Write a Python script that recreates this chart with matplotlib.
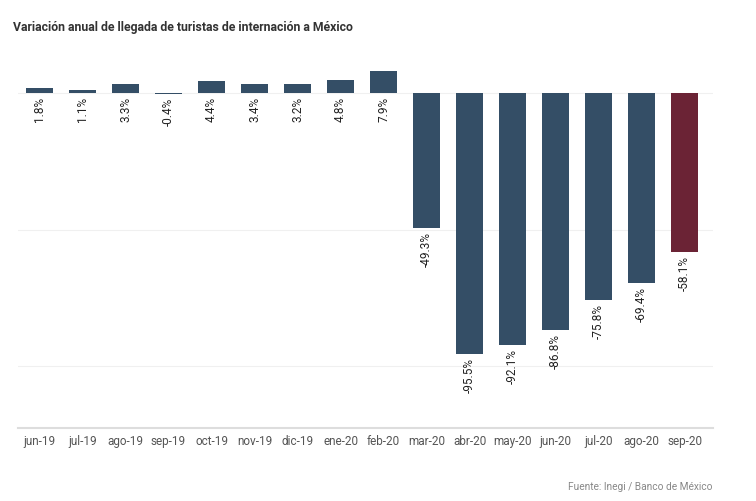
import numpy as np
import matplotlib.pyplot as plt

plt.rcParams['font.family'] = ['Roboto', 'DejaVu Sans']

months = ["jun-19", "jul-19", "ago-19", "sep-19", "oct-19", "nov-19", "dic-19", "ene-20",
          "feb-20", "mar-20", "abr-20", "may-20", "jun-20", "jul-20", "ago-20", "sep-20"]
variacion = [1.8, 1.1, 3.3, -0.4, 4.4, 3.4, 3.2, 4.8, 7.9,
             -49.3, -95.5, -92.1, -86.8, -75.8, -69.4, -58.1]

colors = ["#344e66"] * (len(months) - 1) + ["#6b2335"]

fig = plt.figure(figsize=(7.56, 5.01), dpi=100)
ax = fig.add_axes([18 / 756, 1 - 428 / 501, 695 / 756, (428 - 60) / 501])

x = np.arange(len(months))
ax.bar(x, variacion, width=0.63, color=colors, zorder=3)

# slightly wider on the right than the bar slots
ax.set_xlim(-0.5, len(months) - 0.34)
ax.set_ylim(-122.6, 12)
for g in [0, -50, -100]:
    ax.axhline(g, color="#f0f0f0", lw=0.8, zorder=1)

for xi, v in zip(x, variacion):
    y0 = min(v, 0)
    ax.annotate(f"{v:.1f}%", (xi, y0), xytext=(0, -3), textcoords="offset points",
                rotation=90, ha="center", va="top", fontsize=8.5, color="#222222")

ax.set_xticks(x)
ax.set_xticklabels(months, fontsize=8.5, color="#555555")
ax.tick_params(axis="x", length=0, pad=5)
ax.set_yticks([])
for s in ["top", "right", "left"]:
    ax.spines[s].set_visible(False)
ax.spines["bottom"].set_color("#dddddd")
ax.spines["bottom"].set_linewidth(1.5)

fig.text(13 / 756, 1 - 27 / 501, "Variación anual de llegada de turistas de internación a México",
         fontsize=8.8, fontweight="bold", color="#333333", va="center")
fig.text(713 / 756, 1 - 487 / 501, "Fuente: Inegi / Banco de México",
         fontsize=7.3, color="#888888", ha="right", va="center")

fig.savefig("out.png", dpi=100)
